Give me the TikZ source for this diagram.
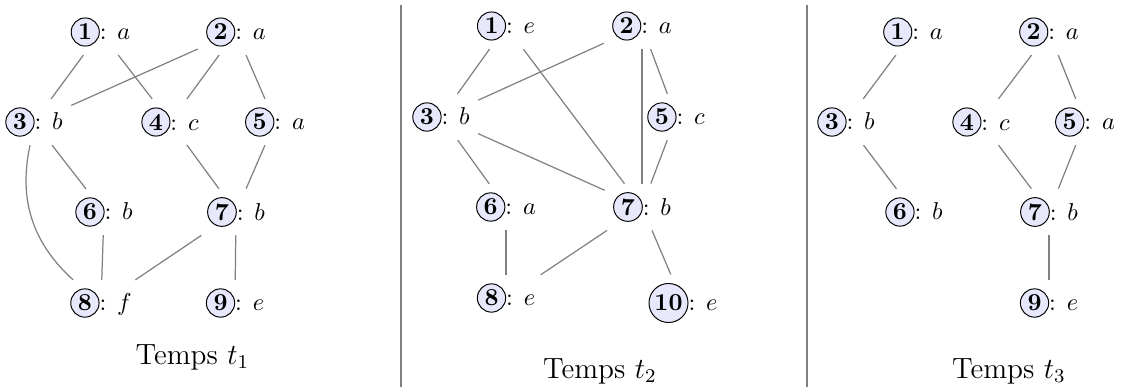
\documentclass[tikz,border=0pt]{standalone}
\usepackage{tikz}
\usetikzlibrary{calc}

\definecolor{fondsommet}{RGB}{232,232,252}
\newcommand{\numero}[1]{\tikz[baseline=(num.base)]\node[circle,draw,fill=fondsommet,inner sep=1pt,line width=0.4pt](num){\textbf{#1}};}

\begin{document}
\begin{tikzpicture}[x=0.41pt,y=-0.41pt,
   sommet/.style={inner sep=3.3pt},
   arete/.style={gray,line width=0.5pt},
   separe/.style={gray,line width=0.6pt}]

   \useasboundingbox (0,0) rectangle (1121,387);

   % temps t1
   \node[sommet] (A1) at (100.5,32) {\numero{1}: $a$};
   \node[sommet] (A2) at (236,32) {\numero{2}: $a$};
   \node[sommet] (A3) at (34,122) {\numero{3}: $b$};
   \node[sommet] (A4) at (170,122) {\numero{4}: $c$};
   \node[sommet] (A5) at (275,122) {\numero{5}: $a$};
   \node[sommet] (A6) at (104,212) {\numero{6}: $b$};
   \node[sommet] (A7) at (236,212) {\numero{7}: $b$};
   \node[sommet] (A8) at (101,303) {\numero{8}: $f$};
   \node[sommet] (A9) at (235,303) {\numero{9}: $e$};
   \node[anchor=base] (T1) at (192.5,364) {\large Temps $t_1$};

   \draw[arete] (A1) -- (A3);
   \draw[arete] (A1) -- (A4);
   \draw[arete] (A2) -- (A3);
   \draw[arete] (A2) -- (A4);
   \draw[arete] (A2) -- (A5);
   \draw[arete] (A3) -- (A6);
   \draw[arete] (A3) to[bend right=30] (A8);
   \draw[arete] (A4) -- (A7);
   \draw[arete] (A5) -- (A7);
   \draw[arete] (A6) -- (A8);
   \draw[arete] (A7) -- (A8);
   \draw[arete] (A7) -- (A9);

   \draw[separe] (401,5) -- (401,387);

   % temps t2
   \node[sommet] (B1) at (506,26) {\numero{1}: $e$};
   \node[sommet] (B2) at (642,26) {\numero{2}: $a$};
   \node[sommet] (B3) at (441,117) {\numero{3}: $b$};
   \node[sommet] (B5) at (676,117) {\numero{5}: $c$};
   \node[sommet] (B6) at (506,207) {\numero{6}: $a$};
   \node[sommet] (B7) at (642,207) {\numero{7}: $b$};
   \node[sommet] (B8) at (506,298) {\numero{8}: $e$};
   \node[sommet] (B10) at (683,303) {\numero{10}: $e$};
   \node[anchor=base] (T2) at (600,378) {\large Temps $t_2$};

   \draw[arete] (B1) -- (B3);
   \draw[arete] (B1) -- (B7);
   \draw[arete] (B2) -- (B3);
   \draw[arete] (B2) -- (B5);
   \draw[arete] (B2) -- (B7);
   \draw[arete] (B3) -- (B6);
   \draw[arete] (B3) -- (B7);
   \draw[arete] (B5) -- (B7);
   \draw[arete] (B6) -- (B8);
   \draw[arete] (B7) -- (B8);
   \draw[arete] (B7) -- (B10);

   \draw[separe] (807,5) -- (807,387);

   % temps t3
   \node[sommet] (C1) at (913,32) {\numero{1}: $a$};
   \node[sommet] (C2) at (1049,32) {\numero{2}: $a$};
   \node[sommet] (C3) at (846,122) {\numero{3}: $b$};
   \node[sommet] (C4) at (981,122) {\numero{4}: $c$};
   \node[sommet] (C5) at (1085,122) {\numero{5}: $a$};
   \node[sommet] (C6) at (914,212) {\numero{6}: $b$};
   \node[sommet] (C7) at (1049,212) {\numero{7}: $b$};
   \node[sommet] (C9) at (1049,303) {\numero{9}: $e$};
   \node[anchor=base] (T3) at (1009,378) {\large Temps $t_3$};

   \draw[arete] (C1) -- (C3);
   \draw[arete] (C3) -- (C6);
   \draw[arete] (C2) -- (C4);
   \draw[arete] (C2) -- (C5);
   \draw[arete] (C4) -- (C7);
   \draw[arete] (C5) -- (C7);
   \draw[arete] (C7) -- (C9);

\end{tikzpicture}
\end{document}
